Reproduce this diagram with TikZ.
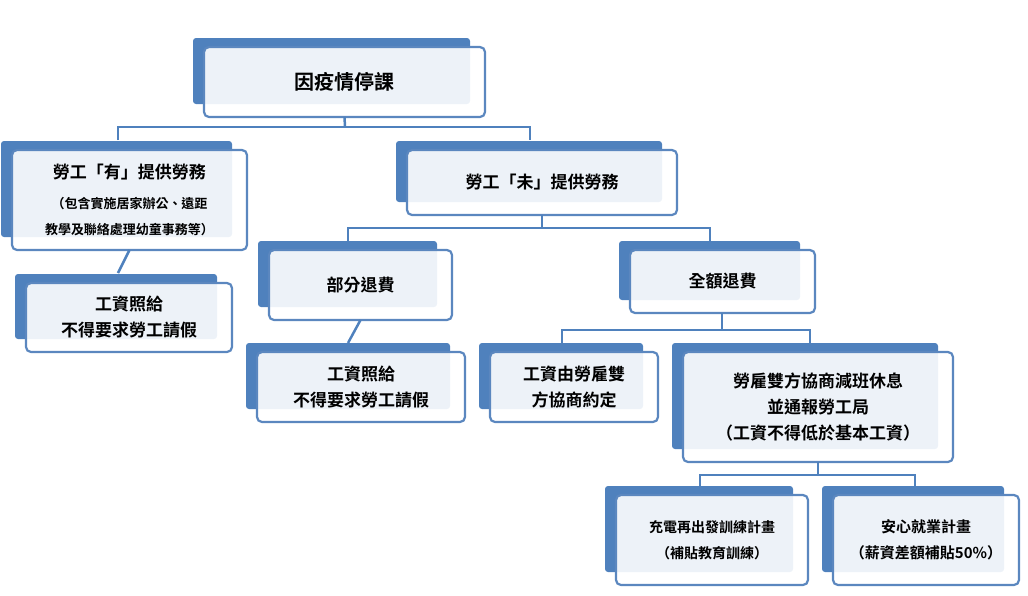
\documentclass[tikz,border=0pt]{standalone}
\usepackage{fontspec}
\newfontfamily\cjk{Noto Sans CJK TC}[BoldFont={Noto Sans CJK TC Bold}]
\definecolor{bb}{HTML}{4F81BD}
\definecolor{fb}{HTML}{5B87BF}
\tikzset{
 back/.style={fill=bb,rounded corners=3pt},
 front/.style={draw=fb,line width=2.2pt,fill=white,fill opacity=0.9,text opacity=1,rounded corners=5pt},
 lbl/.style={align=center,font=\cjk\bfseries\fontsize{17}{26}\selectfont},
 conn/.style={draw=bb,line width=2.5pt}
}
\newcommand{\sm}{\fontsize{13}{17}\selectfont}
\newcommand{\mybox}[6]{%
 \fill[back] (#2-11,#3-9) rectangle (#4-15,#5-13);
 \draw[front] (#2,#3) rectangle (#4,#5);
 \node[lbl] (#1) at ({(#2+#4)/2},{(#3+#5)/2}) {#6};
 \coordinate (#1b) at ({(#2+#4)/2},#5);
}
\begin{document}
\begin{tikzpicture}[x=1pt,y=-1pt]
\useasboundingbox (0,0) rectangle (1028,595);
\mybox{top}{204}{47}{485}{117}{\fontsize{20}{24}\selectfont 因疫情停課}
\mybox{you}{12}{150}{247}{250}{勞工「有」提供勞務\\[4pt]\sm （包含實施居家辦公、遠距\\\sm 教學及聯絡處理幼童事務等）}
\mybox{pay1}{26}{283}{232}{352}{工資照給\\不得要求勞工請假}
\mybox{wei}{407}{150}{677}{215}{勞工「未」提供勞務}
\mybox{part}{269}{250}{452}{320}{部分退費}
\mybox{full}{630}{250}{815}{313}{全額退費}
\mybox{pay2}{257}{352}{465}{422}{工資照給\\不得要求勞工請假}
\mybox{neg}{490}{352}{658}{422}{工資由勞雇雙\\方協商約定}
\mybox{red}{683}{352}{953}{462}{勞雇雙方協商減班休息\\並通報勞工局\\（工資不得低於基本工資）}
\mybox{ch}{616}{495}{808}{585}{\fontsize{14}{26}\selectfont 充電再出發訓練計畫\\\fontsize{14}{26}\selectfont （補貼教育訓練）}
\mybox{an}{833}{495}{1019}{585}{\fontsize{15}{26}\selectfont 安心就業計畫\\\fontsize{15}{26}\selectfont （薪資差額補貼50\%）}
% connectors
\draw[conn] (topb) -- (345,127);
\draw[conn] (118,140) -- (118,127) -- (530,127) -- (530,140);
\draw[conn] (youb) -- (118,273);
\draw[conn] (542,215) -- (542,228);
\draw[conn] (348,242) -- (348,228) -- (710,228) -- (710,242);
\draw[conn] (partb) -- (348,343);
\draw[conn] (722,313) -- (722,330);
\draw[conn] (562,343) -- (562,330) -- (810,330) -- (810,343);
\draw[conn] (818,462) -- (818,475);
\draw[conn] (700,487) -- (700,475) -- (915,475) -- (915,487);
\end{tikzpicture}
\end{document}
